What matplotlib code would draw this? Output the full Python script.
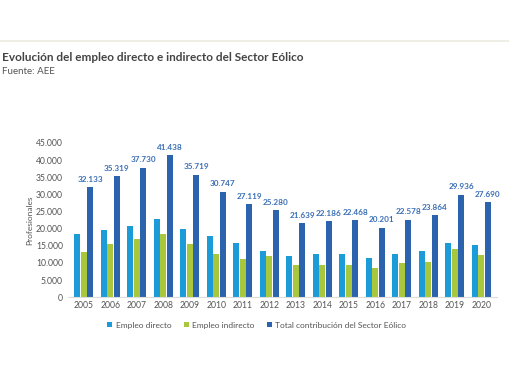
import matplotlib.pyplot as plt
import numpy as np

plt.rcParams['font.family'] = ['Lato', 'DejaVu Sans']

anios = ['2005', '2006', '2007', '2008', '2009', '2010', '2011', '2012',
         '2013', '2014', '2015', '2016', '2017', '2018', '2019', '2020']
directo = [18400, 19600, 20700, 22900, 20000, 17800, 15700, 13400,
           12100, 12600, 12700, 11500, 12600, 13600, 15900, 15100]
indirecto = [13300, 15500, 16900, 18300, 15500, 12600, 11200, 11900,
             9300, 9300, 9500, 8600, 9900, 10300, 14000, 12400]
total = [32133, 35319, 37730, 41438, 35719, 30747, 27119, 25280,
         21639, 22186, 22468, 20201, 22578, 23864, 29936, 27690]

c_dir = '#1b9bd7'
c_ind = '#a9c73c'
c_tot = '#2b63ad'
c_lab = '#3b6fb6'

fig = plt.figure(figsize=(5.1, 3.82), dpi=100)
ax = fig.add_axes([0.133, 0.222, 0.842, 0.404])

x = np.arange(len(anios))
w = 0.22
ax.bar(x - 0.245, directo, w, color=c_dir, label='Empleo directo')
ax.bar(x, indirecto, w, color=c_ind, label='Empleo indirecto')
ax.bar(x + 0.245, total, w, color=c_tot, label='Total contribución del Sector Eólico')

for xi, v in zip(x, total):
    ax.text(xi + 0.245, v + 1300, f'{v:,}'.replace(',', '.'), ha='center', va='bottom',
            fontsize=5.9, fontweight='bold', color=c_lab)

ax.set_ylim(0, 45000)
ax.set_xlim(-0.6, len(anios) - 0.4)
ax.set_yticks(np.arange(0, 45001, 5000))
ax.set_yticklabels([f'{v:,}'.replace(',', '.') if v else '0' for v in range(0, 45001, 5000)])
ax.set_xticks(x)
ax.set_xticklabels(anios)
ax.tick_params(axis='both', length=0, labelsize=6.2, colors='#555555')
ax.tick_params(axis='x', pad=3)
for s in ['top', 'right', 'left']:
    ax.spines[s].set_visible(False)
ax.spines['bottom'].set_color('#dddddd')
ax.spines['bottom'].set_linewidth(0.8)
ax.set_ylabel('Profesionales', fontsize=6, color='#555555', labelpad=2)

ax.legend(loc='upper center', bbox_to_anchor=(0.44, -0.11), ncol=3, frameon=False,
          fontsize=6, handlelength=0.6, handleheight=0.6, columnspacing=1.5,
          handletextpad=0.4, labelcolor='#555555')

fig.add_artist(plt.Line2D([0, 1], [0.893, 0.893], color='#ecebe0', lw=1.2))
fig.text(0.003, 0.84, 'Evolución del empleo directo e indirecto del Sector Eólico',
         fontsize=8.5, fontweight='bold', color='#444444')
fig.text(0.003, 0.805, 'Fuente: AEE', fontsize=7, color='#555555')

fig.savefig('out.png', dpi=100)
